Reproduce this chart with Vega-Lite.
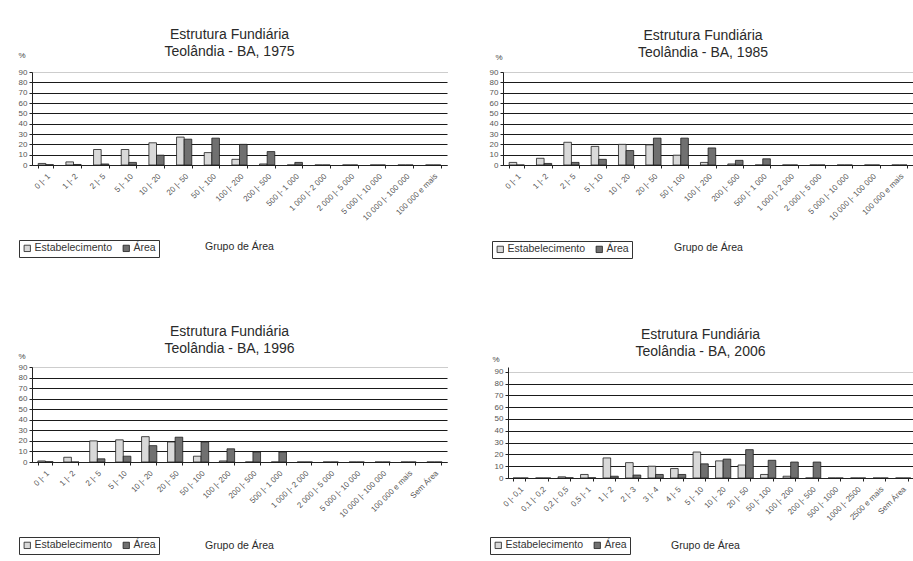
{
  "$schema": "https://vega.github.io/schema/vega-lite/v6.json",
  "background": "white",
  "padding": {"left": 18, "top": 28, "right": 0, "bottom": 0},
  "datasets": {
    "d1975": [
      {"grupo": "0 |- 1", "serie": "Estabelecimento", "valor": 1.5}, {"grupo": "0 |- 1", "serie": "Área", "valor": 0.3},
      {"grupo": "1 |- 2", "serie": "Estabelecimento", "valor": 3}, {"grupo": "1 |- 2", "serie": "Área", "valor": 0.5},
      {"grupo": "2 |- 5", "serie": "Estabelecimento", "valor": 15}, {"grupo": "2 |- 5", "serie": "Área", "valor": 1},
      {"grupo": "5 |- 10", "serie": "Estabelecimento", "valor": 15}, {"grupo": "5 |- 10", "serie": "Área", "valor": 2.5},
      {"grupo": "10 |- 20", "serie": "Estabelecimento", "valor": 21.5}, {"grupo": "10 |- 20", "serie": "Área", "valor": 9.5},
      {"grupo": "20 |- 50", "serie": "Estabelecimento", "valor": 27}, {"grupo": "20 |- 50", "serie": "Área", "valor": 25},
      {"grupo": "50 |- 100", "serie": "Estabelecimento", "valor": 12}, {"grupo": "50 |- 100", "serie": "Área", "valor": 26},
      {"grupo": "100 |- 200", "serie": "Estabelecimento", "valor": 5.5}, {"grupo": "100 |- 200", "serie": "Área", "valor": 20},
      {"grupo": "200 |- 500", "serie": "Estabelecimento", "valor": 1}, {"grupo": "200 |- 500", "serie": "Área", "valor": 13},
      {"grupo": "500 |- 1 000", "serie": "Estabelecimento", "valor": 0}, {"grupo": "500 |- 1 000", "serie": "Área", "valor": 2.5},
      {"grupo": "1 000 |- 2 000", "serie": "Estabelecimento", "valor": 0}, {"grupo": "1 000 |- 2 000", "serie": "Área", "valor": 0},
      {"grupo": "2 000 |- 5 000", "serie": "Estabelecimento", "valor": 0}, {"grupo": "2 000 |- 5 000", "serie": "Área", "valor": 0},
      {"grupo": "5 000 |- 10 000", "serie": "Estabelecimento", "valor": 0}, {"grupo": "5 000 |- 10 000", "serie": "Área", "valor": 0},
      {"grupo": "10 000 |- 100 000", "serie": "Estabelecimento", "valor": 0}, {"grupo": "10 000 |- 100 000", "serie": "Área", "valor": 0},
      {"grupo": "100 000 e mais", "serie": "Estabelecimento", "valor": 0}, {"grupo": "100 000 e mais", "serie": "Área", "valor": 0}
    ],
    "d1985": [
      {"grupo": "0 |- 1", "serie": "Estabelecimento", "valor": 2.5}, {"grupo": "0 |- 1", "serie": "Área", "valor": 0},
      {"grupo": "1 |- 2", "serie": "Estabelecimento", "valor": 6.5}, {"grupo": "1 |- 2", "serie": "Área", "valor": 1.5},
      {"grupo": "2 |- 5", "serie": "Estabelecimento", "valor": 22}, {"grupo": "2 |- 5", "serie": "Área", "valor": 2.5},
      {"grupo": "5 |- 10", "serie": "Estabelecimento", "valor": 18}, {"grupo": "5 |- 10", "serie": "Área", "valor": 5.5},
      {"grupo": "10 |- 20", "serie": "Estabelecimento", "valor": 20}, {"grupo": "10 |- 20", "serie": "Área", "valor": 14},
      {"grupo": "20 |- 50", "serie": "Estabelecimento", "valor": 19.5}, {"grupo": "20 |- 50", "serie": "Área", "valor": 26},
      {"grupo": "50 |- 100", "serie": "Estabelecimento", "valor": 9.5}, {"grupo": "50 |- 100", "serie": "Área", "valor": 26},
      {"grupo": "100 |- 200", "serie": "Estabelecimento", "valor": 2.5}, {"grupo": "100 |- 200", "serie": "Área", "valor": 16.5},
      {"grupo": "200 |- 500", "serie": "Estabelecimento", "valor": 1}, {"grupo": "200 |- 500", "serie": "Área", "valor": 4.5},
      {"grupo": "500 |- 1 000", "serie": "Estabelecimento", "valor": 0}, {"grupo": "500 |- 1 000", "serie": "Área", "valor": 6},
      {"grupo": "1 000 |- 2 000", "serie": "Estabelecimento", "valor": 0}, {"grupo": "1 000 |- 2 000", "serie": "Área", "valor": 0},
      {"grupo": "2 000 |- 5 000", "serie": "Estabelecimento", "valor": 0}, {"grupo": "2 000 |- 5 000", "serie": "Área", "valor": 0},
      {"grupo": "5 000 |- 10 000", "serie": "Estabelecimento", "valor": 0}, {"grupo": "5 000 |- 10 000", "serie": "Área", "valor": 0},
      {"grupo": "10 000 |- 100 000", "serie": "Estabelecimento", "valor": 0}, {"grupo": "10 000 |- 100 000", "serie": "Área", "valor": 0},
      {"grupo": "100 000 e mais", "serie": "Estabelecimento", "valor": 0}, {"grupo": "100 000 e mais", "serie": "Área", "valor": 0}
    ],
    "d1996": [
      {"grupo": "0 |- 1", "serie": "Estabelecimento", "valor": 1}, {"grupo": "0 |- 1", "serie": "Área", "valor": 0.3},
      {"grupo": "1 |- 2", "serie": "Estabelecimento", "valor": 4.5}, {"grupo": "1 |- 2", "serie": "Área", "valor": 0},
      {"grupo": "2 |- 5", "serie": "Estabelecimento", "valor": 20}, {"grupo": "2 |- 5", "serie": "Área", "valor": 3},
      {"grupo": "5 |- 10", "serie": "Estabelecimento", "valor": 21}, {"grupo": "5 |- 10", "serie": "Área", "valor": 5.5},
      {"grupo": "10 |- 20", "serie": "Estabelecimento", "valor": 24}, {"grupo": "10 |- 20", "serie": "Área", "valor": 15.5},
      {"grupo": "20 |- 50", "serie": "Estabelecimento", "valor": 19}, {"grupo": "20 |- 50", "serie": "Área", "valor": 23.5},
      {"grupo": "50 |- 100", "serie": "Estabelecimento", "valor": 5.5}, {"grupo": "50 |- 100", "serie": "Área", "valor": 19},
      {"grupo": "100 |- 200", "serie": "Estabelecimento", "valor": 1}, {"grupo": "100 |- 200", "serie": "Área", "valor": 12.5},
      {"grupo": "200 |- 500", "serie": "Estabelecimento", "valor": 0}, {"grupo": "200 |- 500", "serie": "Área", "valor": 9.5},
      {"grupo": "500 |- 1 000", "serie": "Estabelecimento", "valor": 0}, {"grupo": "500 |- 1 000", "serie": "Área", "valor": 9.5},
      {"grupo": "1 000 |- 2 000", "serie": "Estabelecimento", "valor": 0}, {"grupo": "1 000 |- 2 000", "serie": "Área", "valor": 0},
      {"grupo": "2 000 |- 5 000", "serie": "Estabelecimento", "valor": 0}, {"grupo": "2 000 |- 5 000", "serie": "Área", "valor": 0},
      {"grupo": "5 000 |- 10 000", "serie": "Estabelecimento", "valor": 0}, {"grupo": "5 000 |- 10 000", "serie": "Área", "valor": 0},
      {"grupo": "10 000 |- 100 000", "serie": "Estabelecimento", "valor": 0}, {"grupo": "10 000 |- 100 000", "serie": "Área", "valor": 0},
      {"grupo": "100 000 e mais", "serie": "Estabelecimento", "valor": 0}, {"grupo": "100 000 e mais", "serie": "Área", "valor": 0},
      {"grupo": "Sem Área", "serie": "Estabelecimento", "valor": 0}, {"grupo": "Sem Área", "serie": "Área", "valor": 0}
    ],
    "d2006": [
      {"grupo": "0 |- 0,1", "serie": "Estabelecimento", "valor": 0}, {"grupo": "0 |- 0,1", "serie": "Área", "valor": 0},
      {"grupo": "0,1 |- 0,2", "serie": "Estabelecimento", "valor": 0}, {"grupo": "0,1 |- 0,2", "serie": "Área", "valor": 0},
      {"grupo": "0,2 |- 0,5", "serie": "Estabelecimento", "valor": 1}, {"grupo": "0,2 |- 0,5", "serie": "Área", "valor": 0.2},
      {"grupo": "0,5 |- 1", "serie": "Estabelecimento", "valor": 3}, {"grupo": "0,5 |- 1", "serie": "Área", "valor": 0.2},
      {"grupo": "1 |- 2", "serie": "Estabelecimento", "valor": 17}, {"grupo": "1 |- 2", "serie": "Área", "valor": 1.5},
      {"grupo": "2 |- 3", "serie": "Estabelecimento", "valor": 13}, {"grupo": "2 |- 3", "serie": "Área", "valor": 2.5},
      {"grupo": "3 |- 4", "serie": "Estabelecimento", "valor": 10}, {"grupo": "3 |- 4", "serie": "Área", "valor": 3},
      {"grupo": "4 |- 5", "serie": "Estabelecimento", "valor": 8}, {"grupo": "4 |- 5", "serie": "Área", "valor": 3},
      {"grupo": "5 |- 10", "serie": "Estabelecimento", "valor": 22}, {"grupo": "5 |- 10", "serie": "Área", "valor": 12},
      {"grupo": "10 |- 20", "serie": "Estabelecimento", "valor": 14.5}, {"grupo": "10 |- 20", "serie": "Área", "valor": 16},
      {"grupo": "20 |- 50", "serie": "Estabelecimento", "valor": 11}, {"grupo": "20 |- 50", "serie": "Área", "valor": 24},
      {"grupo": "50 |- 100", "serie": "Estabelecimento", "valor": 3}, {"grupo": "50 |- 100", "serie": "Área", "valor": 15},
      {"grupo": "100 |- 200", "serie": "Estabelecimento", "valor": 1.5}, {"grupo": "100 |- 200", "serie": "Área", "valor": 13.5},
      {"grupo": "200 |- 500", "serie": "Estabelecimento", "valor": 0}, {"grupo": "200 |- 500", "serie": "Área", "valor": 13.5},
      {"grupo": "500 |- 1000", "serie": "Estabelecimento", "valor": 0}, {"grupo": "500 |- 1000", "serie": "Área", "valor": 0},
      {"grupo": "1000 |- 2500", "serie": "Estabelecimento", "valor": 0}, {"grupo": "1000 |- 2500", "serie": "Área", "valor": 0},
      {"grupo": "2500 e mais", "serie": "Estabelecimento", "valor": 0}, {"grupo": "2500 e mais", "serie": "Área", "valor": 0},
      {"grupo": "Sem Área", "serie": "Estabelecimento", "valor": 0}, {"grupo": "Sem Área", "serie": "Área", "valor": 0}
    ]
  },
  "bounds": "flush",
  "spacing": 295,
  "resolve": {"scale": {"color": "independent"}, "legend": {"color": "independent"}},
  "vconcat": [
    {
      "bounds": "flush",
      "spacing": 56,
      "resolve": {"scale": {"color": "independent"}, "legend": {"color": "independent"}},
      "hconcat": [
        {
          "width": 415, "height": 93,
          "data": {"name": "d1975"},
          "title": {"text": ["Estrutura Fundiária", "Teolândia - BA, 1975"], "dx": -10, "offset": -8, "frame": "group"},
          "mark": {"type": "bar"},
          "encoding": {
            "x": {"field": "grupo", "type": "nominal", "sort": null, "scale": {"paddingInner": 0.45, "paddingOuter": 0.225},
                  "axis": {"title": "Grupo de Área", "titleX": 207, "titleY": 81}},
            "xOffset": {"field": "serie", "sort": ["Estabelecimento", "Área"]},
            "y": {"field": "valor", "type": "quantitative", "scale": {"domain": [0, 90]},
                  "axis": {"title": "%", "titleX": -14, "titleY": -17, "values": [0, 10, 20, 30, 40, 50, 60, 70, 80, 90]}},
            "color": {"field": "serie", "type": "nominal", "sort": ["Estabelecimento", "Área"],
                      "scale": {"domain": ["Estabelecimento", "Área"], "range": ["#d9d9d9", "#707070"]},
                      "legend": {"legendX": -13, "legendY": 168}}
          }
        },
        {
          "width": 410, "height": 93,
          "data": {"name": "d1985"},
          "title": {"text": ["Estrutura Fundiária", "Teolândia - BA, 1985"], "dx": -5, "offset": -7, "frame": "group"},
          "mark": {"type": "bar"},
          "encoding": {
            "x": {"field": "grupo", "type": "nominal", "sort": null, "scale": {"paddingInner": 0.45, "paddingOuter": 0.225},
                  "axis": {"title": "Grupo de Área", "titleX": 205, "titleY": 82}},
            "xOffset": {"field": "serie", "sort": ["Estabelecimento", "Área"]},
            "y": {"field": "valor", "type": "quantitative", "scale": {"domain": [0, 90]},
                  "axis": {"title": "%", "titleX": -8, "titleY": -15, "values": [0, 10, 20, 30, 40, 50, 60, 70, 80, 90]}},
            "color": {"field": "serie", "type": "nominal", "sort": ["Estabelecimento", "Área"],
                      "scale": {"domain": ["Estabelecimento", "Área"], "range": ["#d9d9d9", "#707070"]},
                      "legend": {"legendX": -11, "legendY": 169}}
          }
        }
      ]
    },
    {
      "bounds": "flush",
      "spacing": 61,
      "resolve": {"scale": {"color": "independent"}, "legend": {"color": "independent"}},
      "hconcat": [
        {
          "width": 415, "height": 95,
          "data": {"name": "d1996"},
          "title": {"text": ["Estrutura Fundiária", "Teolândia - BA, 1996"], "dx": -10, "offset": -4, "frame": "group"},
          "mark": {"type": "bar"},
          "encoding": {
            "x": {"field": "grupo", "type": "nominal", "sort": null, "scale": {"paddingInner": 0.45, "paddingOuter": 0.225},
                  "axis": {"title": "Grupo de Área", "titleX": 207, "titleY": 83}},
            "xOffset": {"field": "serie", "sort": ["Estabelecimento", "Área"]},
            "y": {"field": "valor", "type": "quantitative", "scale": {"domain": [0, 90]},
                  "axis": {"title": "%", "titleX": -14, "titleY": -11, "values": [0, 10, 20, 30, 40, 50, 60, 70, 80, 90]}},
            "color": {"field": "serie", "type": "nominal", "sort": ["Estabelecimento", "Área"],
                      "scale": {"domain": ["Estabelecimento", "Área"], "range": ["#d9d9d9", "#707070"]},
                      "legend": {"legendX": -13, "legendY": 170}}
          }
        },
        {
          "width": 405, "height": 111,
          "data": {"name": "d2006"},
          "title": {"text": ["Estrutura Fundiária", "Teolândia - BA, 2006"], "dx": -10, "offset": -4, "frame": "group"},
          "mark": {"type": "bar"},
          "encoding": {
            "x": {"field": "grupo", "type": "nominal", "sort": null, "scale": {"paddingInner": 0.45, "paddingOuter": 0.225},
                  "axis": {"title": "Grupo de Área", "titleX": 197, "titleY": 67}},
            "xOffset": {"field": "serie", "sort": ["Estabelecimento", "Área"]},
            "y": {"field": "valor", "type": "quantitative", "scale": {"domain": [0, 94]},
                  "axis": {"title": "%", "titleX": -16, "titleY": -8, "values": [0, 10, 20, 30, 40, 50, 60, 70, 80, 90]}},
            "color": {"field": "serie", "type": "nominal", "sort": ["Estabelecimento", "Área"],
                      "scale": {"domain": ["Estabelecimento", "Área"], "range": ["#d9d9d9", "#707070"]},
                      "legend": {"legendX": -18, "legendY": 170}}
          }
        }
      ]
    }
  ],
  "config": {
    "font": "Liberation Sans",
    "view": {"stroke": null},
    "title": {"font": "Liberation Sans", "fontSize": 14, "fontWeight": "normal", "color": "#2a2a2a", "lineHeight": 17, "anchor": "middle"},
    "bar": {"stroke": "#1e1e1e", "strokeWidth": 0.8},
    "axisX": {
      "labelAngle": -45, "labelFontSize": 8, "labelColor": "#555", "labelPadding": 4,
      "tickBand": "extent", "ticks": true, "tickSize": 3, "tickColor": "#222", "domainColor": "#222", "domainWidth": 1,
      "titleFontSize": 10.5, "titleFontWeight": "normal", "titleColor": "#2a2a2a", "titleBaseline": "middle", "titleAlign": "center",
      "grid": false
    },
    "axisY": {
      "labelFontSize": 8, "labelColor": "#555", "labelPadding": 2,
      "tickSize": 3, "tickColor": "#222", "domainColor": "#222",
      "grid": true,
      "gridColor": {"condition": {"test": "datum.value === 90", "value": "#9a9a9a"}, "value": "#1a1a1a"},
      "gridDash": {"condition": {"test": "datum.value === 90", "value": [1, 1]}, "value": []},
      "gridWidth": 1.2,
      "titleAngle": 0, "titleAlign": "left", "titleBaseline": "middle",
      "titleFontSize": 8, "titleFontWeight": "normal", "titleColor": "#444"
    },
    "legend": {
      "orient": "none", "direction": "horizontal", "title": null,
      "strokeColor": "#333", "padding": 3, "symbolType": "square", "symbolSize": 40,
      "symbolStrokeColor": "#1e1e1e", "symbolStrokeWidth": 0.8,
      "labelFontSize": 10.5, "labelColor": "#333", "labelOffset": 2, "columnPadding": 8
    }
  }
}
